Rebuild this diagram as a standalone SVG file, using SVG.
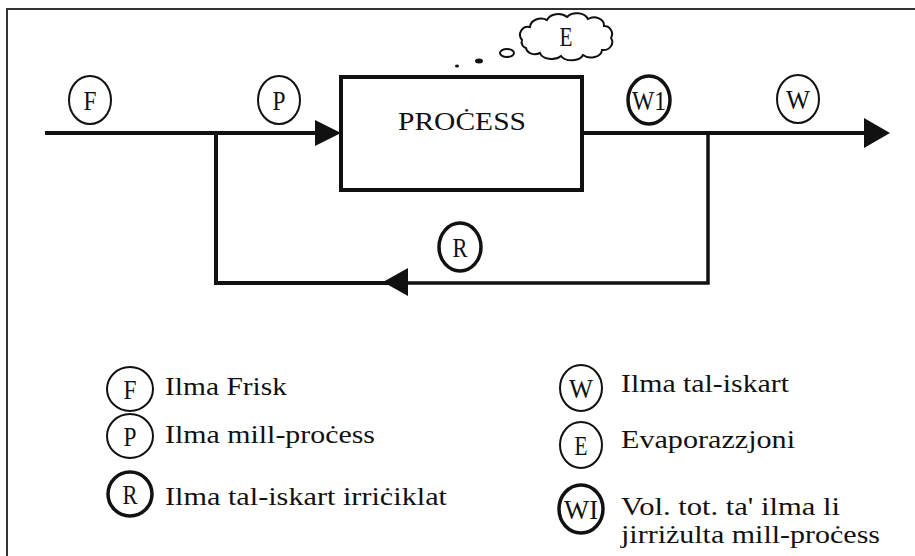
<svg xmlns="http://www.w3.org/2000/svg" width="915" height="556" viewBox="0 0 915 556">
<style>
text{font-family:'Liberation Serif','Times New Roman',serif;fill:#111}
.lbl{font-size:27px;text-anchor:middle}
.leg{font-size:25px}
.c{fill:#fff;stroke:#111;stroke-width:2}
.ct{fill:#fff;stroke:#111;stroke-width:3.5}
.ln{fill:none;stroke:#111;stroke-width:4}
.ah{fill:#111}
</style>
<rect x="0" y="0" width="915" height="556" fill="#fff"/>
<path d="M7,556 V9 H915" fill="none" stroke="#333" stroke-width="2"/>
<g id="connectors">
<path class="ln" d="M45,133 H318"/>
<polygon class="ah" points="315,120 341,133 315,146"/>
<path class="ln" d="M582,133 H868"/>
<polygon class="ah" points="864,118 890,133 864,148"/>
<path class="ln" d="M216,133 V283 H405"/>
<path class="ln" d="M405,283 H708 V133" style="stroke-width:3.5"/>
<polygon class="ah" points="408,268 383,282 408,296"/>
</g>
<g id="process">
<rect x="341" y="77" width="241" height="113" fill="#fff" stroke="#111" stroke-width="4"/>
<text x="398" y="130" font-size="25" textLength="128" lengthAdjust="spacingAndGlyphs">PROĊESS</text>
</g>
<g id="evaporation">
<path class="c" d="M522,40 a8,8 0 0 1 8,-13 a11,9 0 0 1 17,-7 a12,9 0 0 1 20,-3 a12,9 0 0 1 21,2 a10,8 0 0 1 16,7 a8,8 0 0 1 7,12 a9,8 0 0 1 -9,12 a11,8 0 0 1 -19,5 a12,8 0 0 1 -22,1 a12,8 0 0 1 -21,-3 a9,7 0 0 1 -14,-5 a6,6 0 0 1 -4,-8 z"/>
<text class="lbl" x="566" y="46" textLength="13" lengthAdjust="spacingAndGlyphs">E</text>
<ellipse class="c" cx="507" cy="53" rx="7" ry="4"/>
<ellipse cx="479" cy="61" rx="4" ry="2.5" fill="#111"/>
<ellipse cx="457" cy="66" rx="2" ry="1.5" fill="#111"/>
</g>
<g id="F">
<ellipse class="c" cx="90" cy="100" rx="21" ry="24"/>
<text class="lbl" x="90" y="110" textLength="13" lengthAdjust="spacingAndGlyphs">F</text>
</g>
<g id="P">
<ellipse class="c" cx="279" cy="100" rx="21" ry="24"/>
<text class="lbl" x="279" y="110" textLength="13" lengthAdjust="spacingAndGlyphs">P</text>
</g>
<g id="W1">
<ellipse class="ct" cx="649" cy="100" rx="21" ry="24"/>
<text class="lbl" x="649" y="110" font-size="25" textLength="34" lengthAdjust="spacingAndGlyphs">W1</text>
</g>
<g id="W">
<ellipse class="c" cx="798" cy="99" rx="21" ry="24"/>
<text class="lbl" x="798" y="109" textLength="24" lengthAdjust="spacingAndGlyphs">W</text>
</g>
<g id="R">
<ellipse class="ct" cx="460" cy="247" rx="21" ry="24"/>
<text class="lbl" x="460" y="257" textLength="15" lengthAdjust="spacingAndGlyphs">R</text>
</g>
<g id="legend">
<ellipse class="c" cx="130" cy="389" rx="23" ry="22"/>
<text class="lbl" x="130" y="399" textLength="13" lengthAdjust="spacingAndGlyphs">F</text>
<text class="leg" x="165" y="395" textLength="122" lengthAdjust="spacingAndGlyphs">Ilma Frisk</text>
<ellipse class="c" cx="130" cy="436" rx="23" ry="22"/>
<text class="lbl" x="130" y="446" textLength="13" lengthAdjust="spacingAndGlyphs">P</text>
<text class="leg" x="165" y="443" textLength="210" lengthAdjust="spacingAndGlyphs">Ilma mill-proċess</text>
<ellipse class="ct" cx="130" cy="494" rx="22" ry="22"/>
<text class="lbl" x="130" y="504" textLength="15" lengthAdjust="spacingAndGlyphs">R</text>
<text class="leg" x="165" y="505" textLength="282" lengthAdjust="spacingAndGlyphs">Ilma tal-iskart irriċiklat</text>
<ellipse class="c" cx="581" cy="388" rx="21" ry="23"/>
<text class="lbl" x="581" y="398" textLength="24" lengthAdjust="spacingAndGlyphs">W</text>
<text class="leg" x="621" y="392" textLength="168" lengthAdjust="spacingAndGlyphs">Ilma tal-iskart</text>
<ellipse class="c" cx="581" cy="445" rx="21" ry="23"/>
<text class="lbl" x="581" y="455" textLength="13" lengthAdjust="spacingAndGlyphs">E</text>
<text class="leg" x="621" y="448" textLength="174" lengthAdjust="spacingAndGlyphs">Evaporazzjoni</text>
<ellipse class="ct" cx="581" cy="509" rx="22" ry="24"/>
<text class="lbl" x="581" y="519" font-size="25" textLength="34" lengthAdjust="spacingAndGlyphs">WI</text>
<text class="leg" x="621" y="515" textLength="219" lengthAdjust="spacingAndGlyphs">Vol. tot. ta' ilma li</text>
<text class="leg" x="621" y="543" textLength="259" lengthAdjust="spacingAndGlyphs">jirriżulta mill-proċess</text>
</g>
</svg>
